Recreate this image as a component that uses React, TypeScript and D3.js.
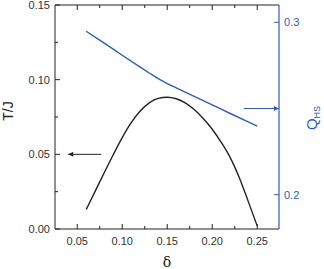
import React from "react";
import * as d3 from "d3";

const deltas = [0.06, 0.07, 0.08, 0.09, 0.10, 0.11, 0.12, 0.13, 0.14, 0.15, 0.16, 0.17, 0.18, 0.19, 0.20, 0.21, 0.22, 0.23, 0.24, 0.25];
const tValues = [0.0131, 0.0254, 0.0377, 0.0497, 0.0612, 0.0712, 0.0790, 0.0845, 0.0875, 0.0882, 0.0872, 0.0845, 0.0800, 0.0740, 0.0668, 0.0580, 0.0478, 0.0345, 0.0185, 0.0020];
const qDeltas = [0.06, 0.08, 0.10, 0.12, 0.13, 0.14, 0.15, 0.16, 0.18, 0.20, 0.22, 0.24, 0.25];
const qValues = [0.2948, 0.2879, 0.2809, 0.2740, 0.2706, 0.2673, 0.2645, 0.2620, 0.2570, 0.2521, 0.2471, 0.2422, 0.2398];
const xTicks = [0.05, 0.10, 0.15, 0.20, 0.25];
const xMinor = [0.075, 0.125, 0.175, 0.225];
const yTicks = [0.00, 0.05, 0.10, 0.15];
const yMinor = [0.025, 0.075, 0.125];
const qTicks = [0.2, 0.3];

const BLUE = "#2e5cb8";
const AX = "#222";

export default function App() {
  const L = 55, R = 279, T = 5, B = 229;
  const x = d3.scaleLinear().domain([0.0253, 0.2742]).range([L, R]);
  const y = d3.scaleLinear().domain([0, 0.15]).range([B, T]);
  const q = d3.scaleLinear().domain([0.2, 0.3]).range([194.7, 22.3]);

  const tLine = d3.line<number>().x((_, i) => x(deltas[i])).y((d) => y(d)).curve(d3.curveMonotoneX);
  const qLine = d3.line<number>().x((_, i) => x(qDeltas[i])).y((d) => q(d)).curve(d3.curveMonotoneX);

  const font = "Liberation Sans, Arial, sans-serif";
  return (
    <svg width={324} height={269} style={{ position: "absolute", left: 0, top: 0 }} fontFamily={font}>
      <defs>
        <marker id="ab" viewBox="0 0 10 10" refX="10" refY="5" markerWidth="6" markerHeight="5" orient="auto" markerUnits="userSpaceOnUse">
          <path d="M0,0 L10,5 L0,10 z" fill={AX} />
        </marker>
        <marker id="abl" viewBox="0 0 10 10" refX="10" refY="5" markerWidth="6" markerHeight="5" orient="auto" markerUnits="userSpaceOnUse">
          <path d="M0,0 L10,5 L0,10 z" fill={BLUE} />
        </marker>
      </defs>
      <path d={tLine(tValues) || ""} fill="none" stroke="#222" strokeWidth={1.4} />
      <path d={qLine(qValues) || ""} fill="none" stroke={BLUE} strokeWidth={1.4} />
      <line x1={L} x2={R} y1={B} y2={B} stroke={AX} strokeWidth={1} />
      <line x1={L} x2={R} y1={T} y2={T} stroke={AX} strokeWidth={1} />
      <line x1={L} x2={L} y1={T} y2={B} stroke={AX} strokeWidth={1} />
      <line x1={R} x2={R} y1={T} y2={B} stroke={BLUE} strokeWidth={1.2} />
      {xTicks.map((t) => (
        <g key={"x" + t}>
          <line x1={x(t)} x2={x(t)} y1={B} y2={B - 5} stroke={AX} />
          <line x1={x(t)} x2={x(t)} y1={T} y2={T + 5} stroke={AX} />
          <text x={x(t)} y={B + 16} fontSize={11} textAnchor="middle" fill="#333">{t.toFixed(2)}</text>
        </g>
      ))}
      {xMinor.map((t) => (
        <g key={"xm" + t}>
          <line x1={x(t)} x2={x(t)} y1={B} y2={B - 3} stroke={AX} />
          <line x1={x(t)} x2={x(t)} y1={T} y2={T + 3} stroke={AX} />
        </g>
      ))}
      {yTicks.map((t) => (
        <g key={"y" + t}>
          <line x1={L} x2={L + 5} y1={y(t)} y2={y(t)} stroke={AX} />
          <text x={L - 5} y={y(t) + 4} fontSize={11} textAnchor="end" fill="#333">{t.toFixed(2)}</text>
        </g>
      ))}
      {yMinor.map((t) => (
        <line key={"ym" + t} x1={L} x2={L + 3} y1={y(t)} y2={y(t)} stroke={AX} />
      ))}
      {qTicks.map((t) => (
        <g key={"q" + t}>
          <line x1={R} x2={R - 5} y1={q(t)} y2={q(t)} stroke={BLUE} />
          <text x={R + 5} y={q(t) + 4} fontSize={11} textAnchor="start" fill={BLUE}>{t.toFixed(1)}</text>
        </g>
      ))}
      <line x1={x(0.0767)} x2={x(0.04)} y1={y(0.05)} y2={y(0.05)} stroke={AX} strokeWidth={1} markerEnd="url(#ab)" />
      <line x1={x(0.235)} x2={x(0.2742)} y1={q(0.25)} y2={q(0.25)} stroke={BLUE} strokeWidth={1} markerEnd="url(#abl)" />
      <text transform={`translate(13,${111}) rotate(-90)`} textAnchor="middle" fontSize={14} fill="#222">T/J</text>
      <text x={167} y={267} textAnchor="middle" fontSize={14} fill="#222" fontFamily="DejaVu Serif, serif">δ</text>
      <text transform={`translate(317,${118}) rotate(-90)`} textAnchor="middle" fontSize={15} fill={BLUE}>
        Q<tspan fontSize={9} dy={3}>HS</tspan>
      </text>
    </svg>
  );
}
